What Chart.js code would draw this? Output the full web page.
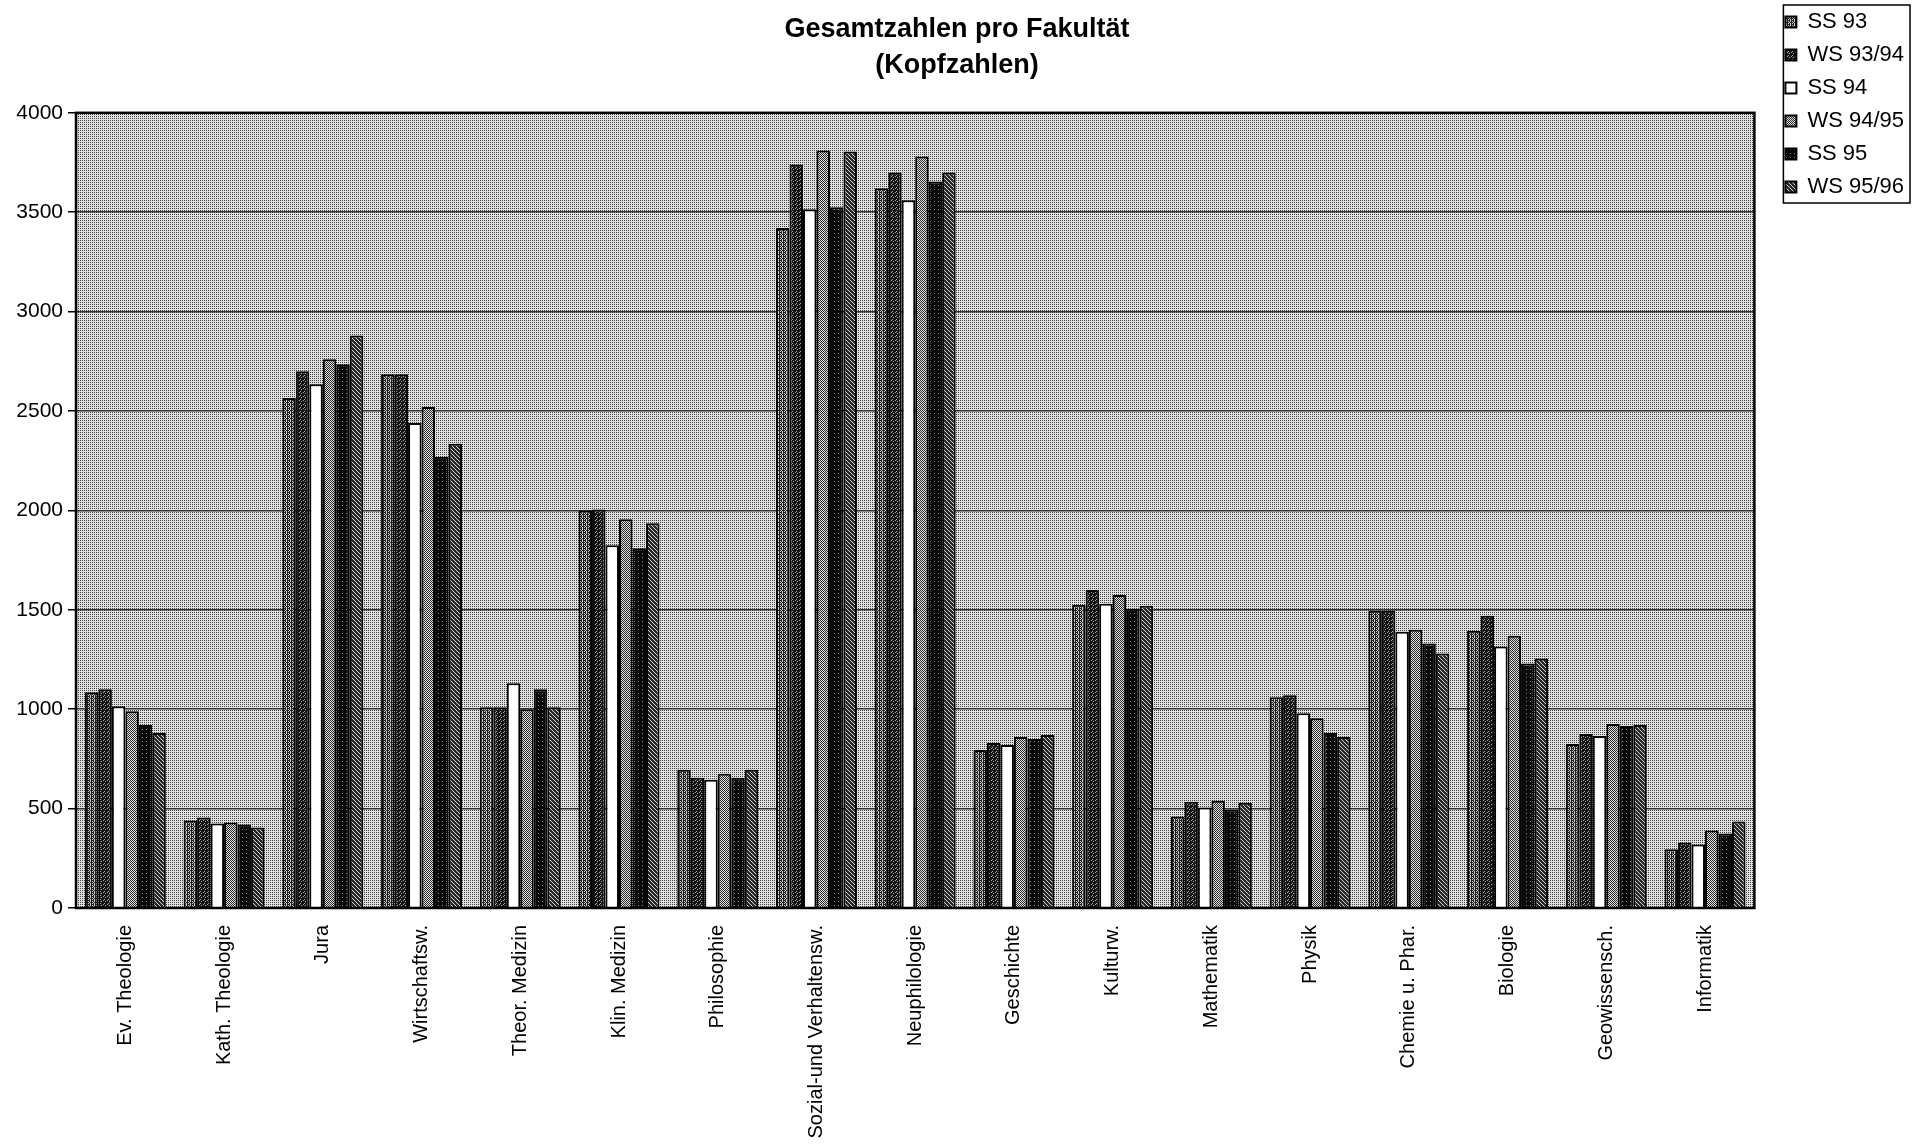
<!DOCTYPE html>
<html>
<head>
<meta charset="utf-8">
<title>Gesamtzahlen pro Fakultät</title>
<script src="https://cdn.jsdelivr.net/npm/chart.js@4.4.1/dist/chart.umd.min.js"></script>
<style>
  html, body { margin: 0; padding: 0; background: #fff; }
  canvas { display: block; }
</style>
</head>
<body>
<canvas id="facultyChart" width="1914" height="1147"></canvas>
<script>
// === data ===
const faculties = [
  "Ev. Theologie", "Kath. Theologie", "Jura", "Wirtschaftsw.", "Theor. Medizin",
  "Klin. Medizin", "Philosophie", "Sozial-und Verhaltensw.", "Neuphilologie", "Geschichte",
  "Kulturw.", "Mathematik", "Physik", "Chemie u. Phar.", "Biologie", "Geowissensch.", "Informatik"
];
const semesters = ["SS 93", "WS 93/94", "SS 94", "WS 94/95", "SS 95", "WS 95/96"];

const ss93   = [1085, 440, 2565, 2685, 1010, 2000, 695, 3420, 3620, 795, 1525, 460, 1060, 1495, 1395, 825, 295];
const ws9394 = [1100, 455, 2700, 2685, 1010, 2005, 655, 3740, 3700, 830, 1600, 535, 1070, 1495, 1470, 875, 330];
const ss94   = [1015, 425, 2635, 2440, 1130, 1825, 645, 3515, 3560, 820, 1530, 505, 980, 1390, 1315, 865, 320];
const ws9495 = [990, 430, 2760, 2520, 1000, 1955, 675, 3810, 3780, 860, 1575, 540, 955, 1400, 1370, 925, 390];
const ss95   = [920, 420, 2735, 2270, 1100, 1810, 655, 3525, 3655, 850, 1505, 495, 880, 1330, 1230, 915, 375];
const ws9596 = [880, 405, 2880, 2335, 1010, 1935, 695, 3805, 3700, 870, 1520, 530, 860, 1280, 1255, 920, 435];

const yMin = 0, yMax = 4000, yStep = 500;

// === patterns (old b/w print look) ===
function makePattern(ctx, base, ink, rows) {
  const tile = document.createElement("canvas");
  tile.width = rows[0].length;
  tile.height = rows.length;
  const t = tile.getContext("2d");
  t.fillStyle = base;
  t.fillRect(0, 0, tile.width, tile.height);
  t.fillStyle = ink;
  rows.forEach((row, y) => {
    [...row].forEach((c, x) => { if (c === "x") t.fillRect(x, y, 1, 1); });
  });
  return ctx.createPattern(tile, "repeat");
}

const canvas = document.getElementById("facultyChart");
const ctx = canvas.getContext("2d");

const bgPattern = makePattern(ctx, "#e2e2e2", "#404040", ["x.x.", "....", "x.x.", "...."]);
const fills = [
  makePattern(ctx, "#d0d0d0", "#1e1e1e", ["xx.x", ".x.x", "x.xx", ".x.x"]),
  makePattern(ctx, "#a8a8a8", "#141414", ["xxx.", "x.xx", "xxxx", ".xxx"]),
  "#ffffff",
  makePattern(ctx, "#e4e4e4", "#262626", ["x.x.", ".x.x", "x.x.", ".x.x"]),
  makePattern(ctx, "#8a8a8a", "#080808", ["xxxx", "xx.x", "xxxx", "xxxx"]),
  makePattern(ctx, "#d8d8d8", "#262626", ["xx.x", "xxx.", ".xxx", "x.xx"]),
];

const seriesValues = [ss93, ws9394, ss94, ws9495, ss95, ws9596];

// plot background, frame around plot and frame around legend
const framePlugin = {
  id: "framePlugin",
  beforeDraw(chart) {
    const a = chart.chartArea;
    const c = chart.ctx;
    c.save();
    c.fillStyle = bgPattern;
    c.fillRect(a.left, a.top, a.right - a.left, a.bottom - a.top);
    c.restore();
  },
  afterDatasetsDraw(chart) {
    const a = chart.chartArea;
    const c = chart.ctx;
    c.save();
    c.strokeStyle = "#000";
    c.lineWidth = 2.5;
    c.strokeRect(a.left, a.top, a.right - a.left, a.bottom - a.top);
    c.restore();
  },
  afterDraw(chart) {
    const lg = chart.legend;
    const opts = lg.options.labels;
    const size = opts.font.size;
    const n = lg.legendItems.length;
    const left = lg.left + 9;
    const right = lg.left + lg.width - 4;
    const top = lg.top + 5;
    const bottom = lg.top + n * (size + opts.padding) + 5;
    const c = chart.ctx;
    c.save();
    c.strokeStyle = "#000";
    c.lineWidth = 1.5;
    c.strokeRect(left, top, right - left, bottom - top);
    c.restore();
  }
};

Chart.defaults.font.family = "'Liberation Sans', Arial, sans-serif";
Chart.defaults.color = "#000";

new Chart(ctx, {
  type: "bar",
  data: {
    labels: faculties,
    datasets: semesters.map((name, i) => ({
      label: name,
      data: seriesValues[i],
      backgroundColor: fills[i],
      borderColor: "#000",
      borderWidth: 2,
      categoryPercentage: 0.82,
      barPercentage: 1.0,
    })),
  },
  options: {
    responsive: false,
    animation: false,
    devicePixelRatio: 1,
    events: [],
    layout: { padding: { left: 0, right: 0, top: 0, bottom: 6 } },
    plugins: {
      title: {
        display: true,
        text: ["Gesamtzahlen pro Fakultät", "(Kopfzahlen)"],
        font: { size: 27, weight: "bold", lineHeight: 1.33 },
        padding: { top: 12, bottom: 29 },
        color: "#000",
      },
      legend: {
        position: "right",
        align: "start",
        labels: {
          boxWidth: 11,
          boxHeight: 11,
          padding: 11,
          font: { size: 22 },
          color: "#000",
        },
      },
      tooltip: { enabled: false },
    },
    scales: {
      x: {
        afterFit: (scale) => { scale.height = 233; },
        grid: { display: false, drawTicks: false },
        border: { display: false },
        ticks: {
          autoSkip: false,
          maxRotation: 90,
          minRotation: 90,
          padding: 17,
          font: { size: 20 },
        },
      },
      y: {
        min: yMin,
        max: yMax,
        afterFit: (scale) => { scale.width = 76; },
        grid: { color: "#333", lineWidth: 1.5, tickLength: 8, tickColor: "#000" },
        border: { display: false },
        ticks: {
          stepSize: yStep,
          padding: 5,
          font: { size: 21 },
          callback: (v) => String(v),
        },
      },
      // empty spacer between plot and legend
      gap: {
        type: "linear",
        position: "right",
        afterFit: (scale) => { scale.width = 20; },
        grid: { display: false, drawTicks: false },
        border: { display: false },
        ticks: { display: false },
      },
    },
  },
  plugins: [framePlugin],
});
</script>
</body>
</html>
